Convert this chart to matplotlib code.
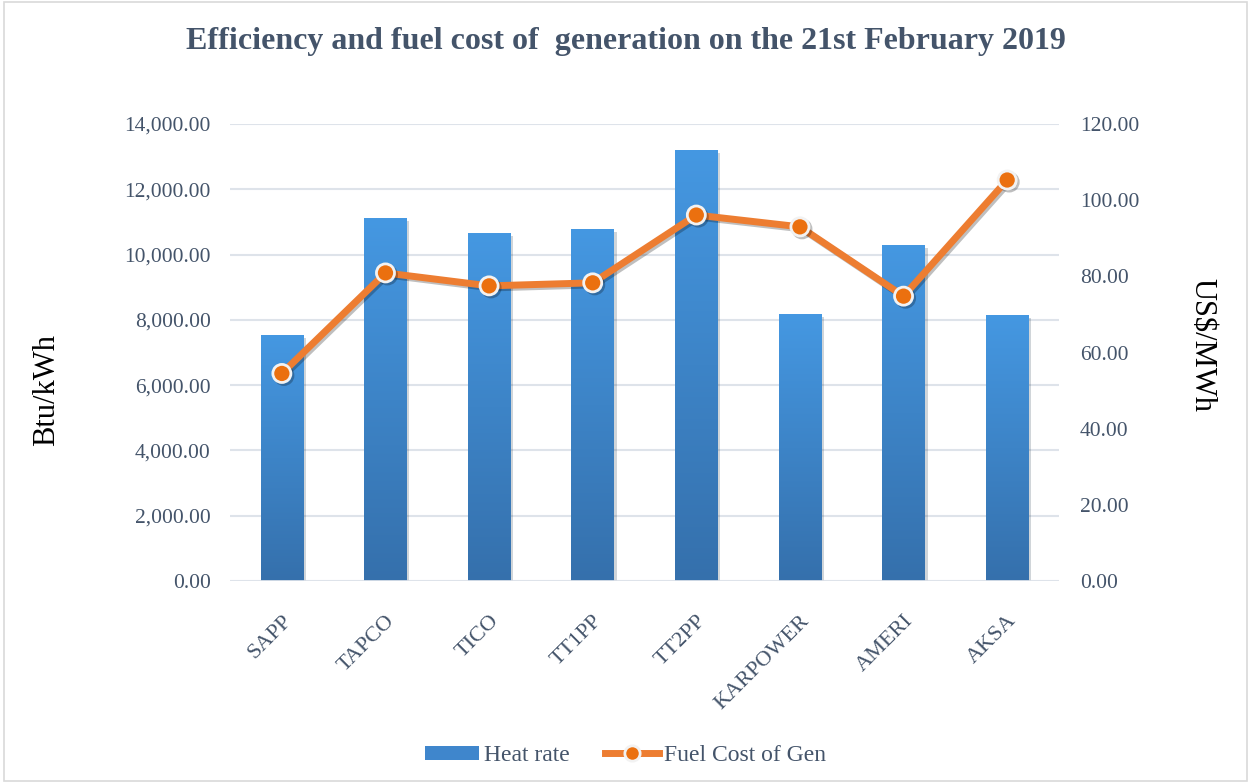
import numpy as np
import matplotlib.pyplot as plt
import matplotlib.patheffects as pe
from matplotlib.patches import Rectangle
from matplotlib.lines import Line2D
from matplotlib.colors import LinearSegmentedColormap
from matplotlib.ticker import FuncFormatter

# Data
plants = ['SAPP', 'TAPCO', 'TICO', 'TT1PP', 'TT2PP', 'KARPOWER', 'AMERI', 'AKSA']
heat_rate = [7540, 11120, 10660, 10790, 13210, 8180, 10300, 8150]
fuel_cost = [54.5, 80.9, 77.5, 78.3, 96.1, 93.0, 74.8, 105.3]
left_ticks = [0, 2000, 4000, 6000, 8000, 10000, 12000, 14000]
right_ticks = [0, 20, 40, 60, 80, 100, 120]

plt.rcParams['font.family'] = ['Liberation Serif', 'DejaVu Serif']
txt = '#44546A'
grid_c = '#DEE3EA'

fig = plt.figure(figsize=(12.51, 7.83), dpi=100)
ax = fig.add_axes([0.1839, 0.258, 0.6626, 0.5836])
ax2 = ax.twinx()

x = np.arange(len(plants))
bars = ax.bar(x, heat_rate, width=0.41, color='#4396E0', zorder=2,
              path_effects=[pe.SimplePatchShadow(offset=(2, -2), alpha=0.2), pe.Normal()])

# vertical gradient on each bar (lighter at the top, darker at the bottom)
grad = np.linspace(0, 1, 256).reshape(-1, 1)
cmap = LinearSegmentedColormap.from_list('bar', ['#3570AC', '#4598E2'])
for b in bars:
    im = ax.imshow(grad, cmap=cmap, origin='lower', aspect='auto', zorder=2.5,
                   extent=[b.get_x(), b.get_x() + b.get_width(), 0, b.get_height()])
    im.set_clip_path(b)

ax.set_xlim(-0.5, len(plants) - 0.5)
ax.set_ylim(0, 14000)
ax.set_yticks(left_ticks)
ax.yaxis.set_major_formatter(FuncFormatter(lambda v, p: f'{v:,.2f}'))
ax.grid(axis='y', color=grid_c, linewidth=1.5, zorder=0)
ax.set_axisbelow(True)
ax.set_xticks(x)
ax.set_xticklabels(plants, rotation=45, ha='right', rotation_mode='anchor')
ax.tick_params(axis='x', length=0, pad=22, labelsize=16, labelcolor=txt)
ax.tick_params(axis='y', length=0, pad=14, labelsize=15.5, labelcolor=txt)
for s in ax.spines.values():
    s.set_visible(False)
for s in ax2.spines.values():
    s.set_visible(False)
ax.axhline(0, color=grid_c, linewidth=2, zorder=3)

ax2.plot(x, fuel_cost, color='#ED7D31', linewidth=5, marker='o', markersize=13,
         markerfacecolor='#EB700F', markeredgecolor='#F2F2F2', markeredgewidth=2,
         solid_capstyle='round', zorder=4,
         path_effects=[pe.SimpleLineShadow(offset=(1.5, -1.5), alpha=0.25), pe.Normal()])
ax2.set_ylim(0, 120)
ax2.set_yticks(right_ticks)
ax2.yaxis.set_major_formatter(FuncFormatter(lambda v, p: f'{v:.2f}'))
ax2.tick_params(axis='y', length=0, pad=15, labelsize=15.5, labelcolor=txt)
ax.set_zorder(1)
ax2.set_zorder(2)
ax.patch.set_visible(False)

fig.text(0.037, 0.502, 'Btu/kWh', rotation=90, va='center', ha='center', fontsize=22, color='black')
fig.text(0.961, 0.559, 'US$/MWh', rotation=-90, va='center', ha='center', fontsize=22, color='black')

fig.text(0.5, 0.947, 'Efficiency and fuel cost of  generation on the 21st February 2019',
         ha='center', va='center', fontsize=23, fontweight='bold', color=txt)

# legend
h1 = Rectangle((0, 0), 1, 1, facecolor='#3F86CC')
h2 = Line2D([0], [0], color='#ED7D31', linewidth=5, marker='o', markersize=11,
            markerfacecolor='#EB700F', markeredgecolor='#F2F2F2', markeredgewidth=2)
leg = fig.legend([h1, h2], ['Heat rate', 'Fuel Cost of Gen'], loc='center',
                 bbox_to_anchor=(0.5, 0.035), ncol=2, frameon=False, fontsize=17,
                 handlelength=2.3, handleheight=0.55, columnspacing=1.5, handletextpad=0.2)
for t in leg.get_texts():
    t.set_color(txt)

# thin chart frame
fig.patches.append(Rectangle((0.003, 0.003), 0.994, 0.994, transform=fig.transFigure,
                             fill=False, edgecolor='#D9D9D9', linewidth=1.2))

fig.savefig('out.png', dpi=100)
